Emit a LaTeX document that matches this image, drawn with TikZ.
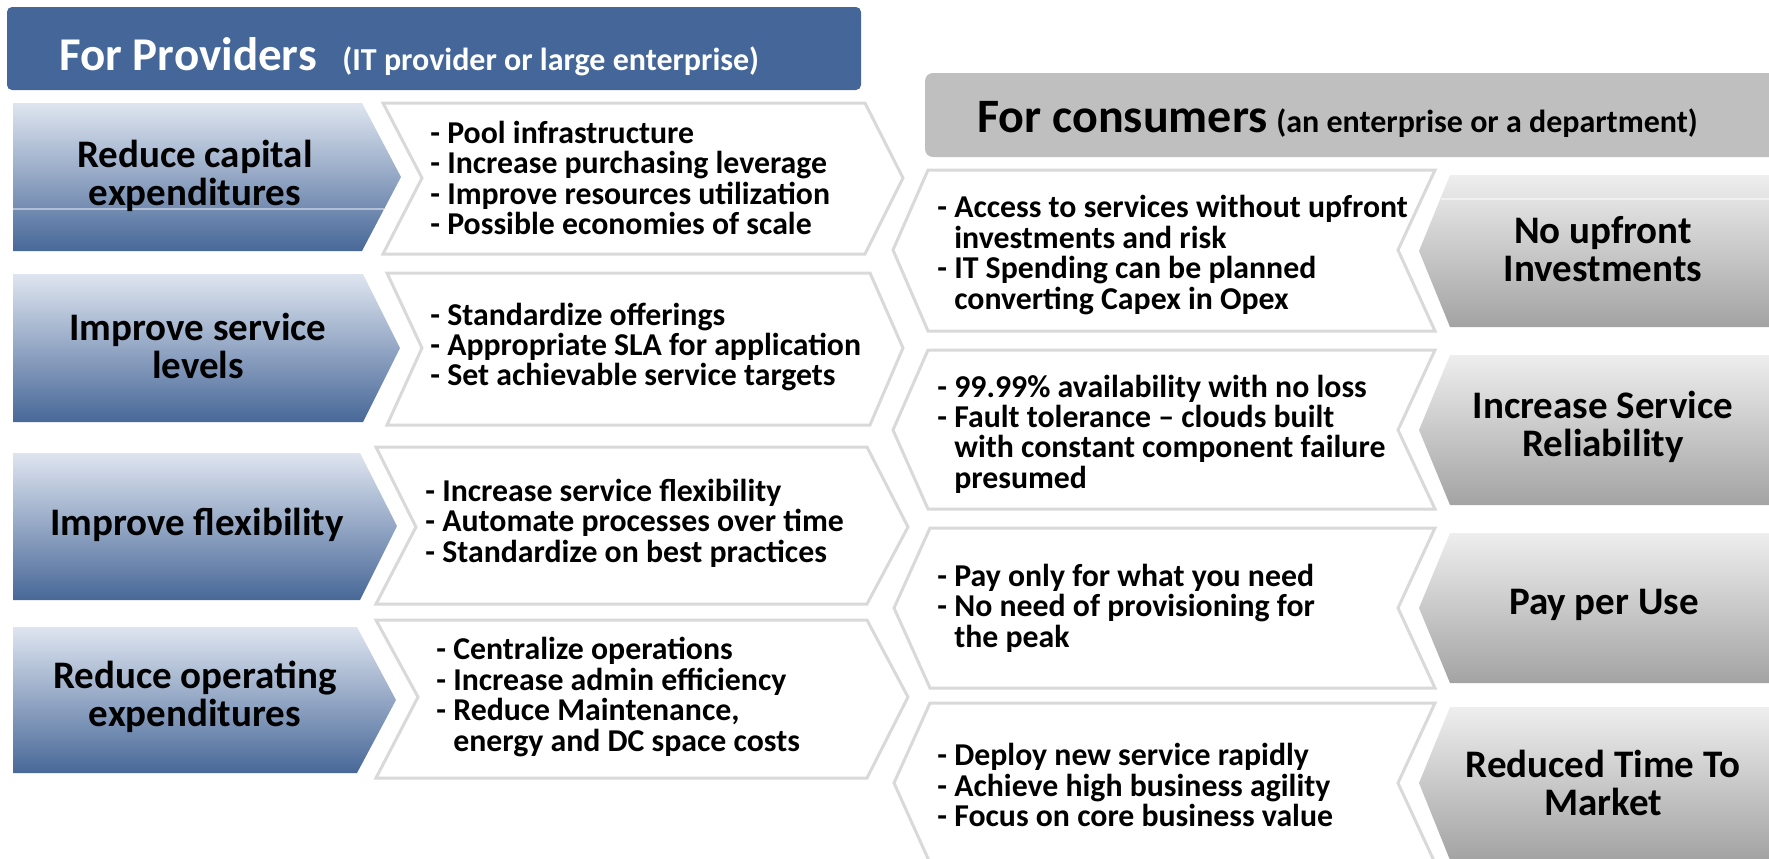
\documentclass[tikz,border=0pt]{standalone}
\usepackage{fontspec}
\setmainfont{Carlito}
\definecolor{hdrblue}{RGB}{68,102,153}
\definecolor{bluetop}{RGB}{222,229,240}
\definecolor{bluebot}{RGB}{72,104,152}
\definecolor{hdrgrey}{RGB}{191,191,191}
\definecolor{greytop}{RGB}{238,238,238}
\definecolor{greybot}{RGB}{163,163,163}
\definecolor{chevline}{RGB}{217,217,217}
\begin{document}
\begin{tikzpicture}[x=0.5pt,y=0.5pt,
  bluechev/.style={top color=bluetop, bottom color=bluebot, draw=none},
  greychev/.style={top color=greytop, bottom color=greybot, draw=none},
  whitechev/.style={fill=white, draw=chevline, line width=1.5pt, line join=miter},
  lbl/.style={font=\bfseries\fontsize{19.5}{19.2}\selectfont, align=center, inner sep=0},
  blt/.style={font=\bfseries\fontsize{15.9}{15.2}\selectfont, align=left, inner sep=0, anchor=west},
  bigt/.style={font=\bfseries\fontsize{23.5}{28}\selectfont, inner sep=0, anchor=base west},
  subt/.style={font=\bfseries\fontsize{16}{19}\selectfont, inner sep=0, anchor=base west}]
\useasboundingbox (0,0) rectangle (1769,-858);
\clip (0,0) rectangle (1769,-858);

% headers
\fill[hdrblue, rounded corners=2.5pt] (7,-7) rectangle (861,-90);
\node[bigt, white] (hp) at (59,-70) {For Providers};
\node[subt, white] (hps) at (342,-70) {(IT provider or large enterprise)};
\fill[hdrgrey, rounded corners=4pt] (925,-73) rectangle (1800,-157);
\node[bigt, font=\bfseries\fontsize{24}{28}\selectfont] (hc) at (977,-132) {For consumers};
\node[subt] (hcs) at (1276,-132) {(an enterprise or a department)};

% left blue chevrons
\shade[bluechev] (13,-103) -- (362,-103) -- (401,-177) -- (362,-251) -- (13,-251) -- cycle;
\draw[white, opacity=0.45, line width=0.6pt] (13,-209) -- (384,-209);
\shade[bluechev] (13,-274) -- (363,-274) -- (400,-348) -- (363,-422) -- (13,-422) -- cycle;
\shade[bluechev] (13,-453) -- (360,-453) -- (397,-526) -- (360,-600) -- (13,-600) -- cycle;
\shade[bluechev] (13,-627) -- (357,-627) -- (396,-700) -- (357,-773) -- (13,-773) -- cycle;

% left white chevrons
\draw[whitechev] (383,-103) -- (865,-103) -- (903,-178) -- (865,-254) -- (383,-254) -- (422,-178) -- cycle;
\draw[whitechev] (387,-273) -- (870,-273) -- (903,-348) -- (870,-425) -- (387,-425) -- (422,-348) -- cycle;
\draw[whitechev] (376,-447) -- (867,-447) -- (908,-527) -- (867,-604) -- (376,-604) -- (416,-527) -- cycle;
\draw[whitechev] (376,-620) -- (867,-620) -- (908,-697) -- (867,-778) -- (376,-778) -- (418,-697) -- cycle;

% right white chevrons
\draw[whitechev] (928,-170) -- (1435,-170) -- (1398,-250) -- (1435,-331) -- (928,-331) -- (893,-250) -- cycle;
\draw[whitechev] (928,-350) -- (1435,-350) -- (1398,-430) -- (1435,-509) -- (928,-509) -- (893,-430) -- cycle;
\draw[whitechev] (930,-528) -- (1435,-528) -- (1398,-608) -- (1435,-688) -- (930,-688) -- (894,-608) -- cycle;
\draw[whitechev] (930,-703) -- (1435,-703) -- (1398,-783) -- (1435,-863) -- (930,-863) -- (894,-783) -- cycle;

% right grey chevrons
\shade[greychev] (1450,-175) -- (1800,-175) -- (1800,-327) -- (1450,-327) -- (1419,-251) -- cycle;
\draw[white, opacity=0.5, line width=0.6pt] (1441,-199) -- (1800,-199);
\shade[greychev] (1450,-355) -- (1800,-355) -- (1800,-505) -- (1450,-505) -- (1419,-430) -- cycle;
\shade[greychev] (1450,-533) -- (1800,-533) -- (1800,-683) -- (1450,-683) -- (1419,-608) -- cycle;
\shade[greychev] (1450,-707) -- (1800,-707) -- (1800,-860) -- (1450,-860) -- (1419,-783) -- cycle;

% left labels
\node[lbl] (l1) at (195,-176) {Reduce capital\\expenditures};
\node[lbl] (l2) at (198,-346) {Improve service\\levels};
\node[lbl] (l3) at (197,-525) {Improve flexibility};
\node[lbl] (l4) at (195,-697) {Reduce operating\\expenditures};

% left bullets
\node[blt] (b1) at (430,-178) {- Pool infrastructure\\- Increase purchasing leverage\\- Improve resources utilization\\- Possible economies of scale};
\node[blt] (b2) at (430,-347) {- Standardize offerings\\- Appropriate SLA for application\\- Set achievable service targets};
\node[blt] (b3) at (425,-523) {- Increase service flexibility\\- Automate processes over time\\- Standardize on best practices};
\node[blt] (b4) at (436,-697) {- Centralize operations\\- Increase admin efficiency\\- Reduce Maintenance,\\\phantom{- }energy and DC space costs};

% right bullets
\node[blt] (c1) at (937,-255) {- Access to services without upfront\\\phantom{- }investments and risk\\- IT Spending can be planned\\\phantom{- }converting Capex in Opex};
\node[blt] (c2) at (937,-434) {- 99.99\% availability with no loss\\- Fault tolerance – clouds built\\\phantom{- }with constant component failure\\\phantom{- }presumed};
\node[blt] (c3) at (937,-608) {- Pay only for what you need\\- No need of provisioning for\\\phantom{- }the peak};
\node[blt] (c4) at (937,-785) {- Deploy new service rapidly\\- Achieve high business agility\\- Focus on core business value};

% right labels
\node[lbl] (r1) at (1603,-249) {No upfront\\Investments};
\node[lbl] (r2) at (1603,-427) {Increase Service\\Reliability};
\node[lbl] (r3) at (1604,-605) {Pay per Use};
\node[lbl] (r4) at (1603,-783) {Reduced Time To\\Market};
\end{tikzpicture}
\end{document}
